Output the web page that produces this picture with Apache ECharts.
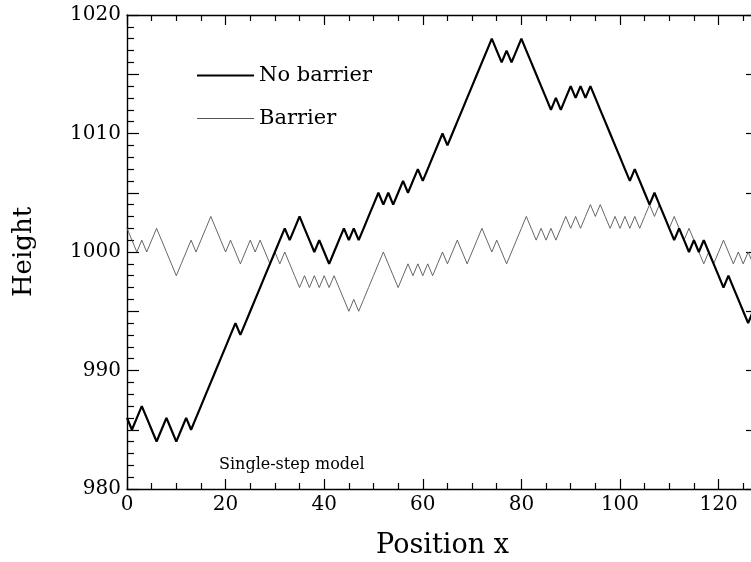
<!DOCTYPE html>
<html>
<head>
<meta charset="utf-8">
<script src="https://cdn.jsdelivr.net/npm/echarts@6/dist/echarts.min.js"></script>
<style>
html,body{margin:0;padding:0;background:#fff;}
#chart{width:751px;height:562px;}
</style>
</head>
<body>
<div id="chart"></div>
<script>
// Position x runs 0..128, one value per lattice site
const positions = Array.from({length: 129}, (_, i) => i);
const heightNoBarrier = [
  986,985,986,987,986,985,984,985,986,985,984,985,986,985,986,987,988,989,990,991,
  992,993,994,993,994,995,996,997,998,999,1000,1001,1002,1001,1002,1003,1002,1001,1000,1001,
  1000,999,1000,1001,1002,1001,1002,1001,1002,1003,1004,1005,1004,1005,1004,1005,1006,1005,1006,1007,
  1006,1007,1008,1009,1010,1009,1010,1011,1012,1013,1014,1015,1016,1017,1018,1017,1016,1017,1016,1017,
  1018,1017,1016,1015,1014,1013,1012,1013,1012,1013,1014,1013,1014,1013,1014,1013,1012,1011,1010,1009,
  1008,1007,1006,1007,1006,1005,1004,1005,1004,1003,1002,1001,1002,1001,1000,1001,1000,1001,1000,999,
  998,997,998,997,996,995,994,995,994
];
const heightBarrier = [
  1002,1001,1000,1001,1000,1001,1002,1001,1000,999,998,999,1000,1001,1000,1001,1002,1003,1002,1001,
  1000,1001,1000,999,1000,1001,1000,1001,1000,999,1000,999,1000,999,998,997,998,997,998,997,
  998,997,998,997,996,995,996,995,996,997,998,999,1000,999,998,997,998,999,998,999,
  998,999,998,999,1000,999,1000,1001,1000,999,1000,1001,1002,1001,1000,1001,1000,999,1000,1001,
  1002,1003,1002,1001,1002,1001,1002,1001,1002,1003,1002,1003,1002,1003,1004,1003,1004,1003,1002,1003,
  1002,1003,1002,1003,1002,1003,1004,1003,1004,1003,1002,1003,1002,1001,1002,1001,1000,999,1000,999,
  1000,1001,1000,999,1000,999,1000,999,1000
];
const seriesNames = ['No barrier', 'Barrier'];
const xTickValues = [0, 20, 40, 60, 80, 100, 120];
const yTickValues = [980, 990, 1000, 1010, 1020];

const FONT = 'DejaVu Serif';
const chart = echarts.init(document.getElementById('chart'), null, {renderer: 'canvas'});

const axisLineStyle = {color: '#000', width: 1.4};
function xAxisCfg(pos, showLabels) {
  return {
    type: 'value', position: pos, min: 0, max: 128, interval: 20,
    axisLine: {show: true, onZero: false, lineStyle: axisLineStyle},
    axisTick: {show: true, inside: true, length: 10, lineStyle: {color: '#000', width: 1.2}},
    minorTick: {show: true, splitNumber: 4, length: 6, lineStyle: {color: '#000', width: 1.2}},
    splitLine: {show: false}, minorSplitLine: {show: false},
    axisLabel: {
      show: showLabels, color: '#000', fontFamily: FONT, fontSize: 20, margin: 6,
      showMaxLabel: false, showMinLabel: true, hideOverlap: false,
      formatter: v => xTickValues.includes(v) ? String(v) : ''
    },
    name: showLabels ? 'Position x' : '',
    nameLocation: 'middle', nameGap: 43,
    nameTextStyle: {color: '#000', fontFamily: FONT, fontSize: 27}
  };
}
function yAxisCfg(pos, showLabels) {
  return {
    type: 'value', position: pos, min: 980, max: 1020, interval: 5,
    axisLine: {show: true, onZero: false, lineStyle: axisLineStyle},
    axisTick: {show: true, inside: true, length: 12, lineStyle: {color: '#000', width: 1.2}},
    minorTick: {show: true, splitNumber: 5, length: 7, lineStyle: {color: '#000', width: 1.2}},
    splitLine: {show: false}, minorSplitLine: {show: false},
    axisLabel: {
      show: showLabels, color: '#000', fontFamily: FONT, fontSize: 20, margin: 6,
      showMinLabel: true, showMaxLabel: true, hideOverlap: false,
      formatter: v => yTickValues.includes(v) ? String(v) : ''
    },
    name: showLabels ? 'Height' : '',
    nameLocation: 'middle', nameGap: 90, nameRotate: 90,
    nameTextStyle: {color: '#000', fontFamily: FONT, fontSize: 26}
  };
}

const option = {
  backgroundColor: '#fff',
  animation: false,
  grid: {left: 127, right: -7, top: 15, bottom: 73, containLabel: false, outerBoundsMode: 'none'},
  legend: {
    orient: 'vertical', left: 192, top: 60,
    itemWidth: 57, itemHeight: 14, itemGap: 22,
    textStyle: {color: '#000', fontFamily: FONT, fontSize: 21},
    data: [
      {name: seriesNames[0], icon: 'path://M0,0L57,0L57,2.2L0,2.2Z'},
      {name: seriesNames[1], icon: 'path://M0,0L57,0L57,1L0,1Z'}
    ],
    selectedMode: false
  },
  xAxis: [xAxisCfg('bottom', true), xAxisCfg('top', false)],
  yAxis: [yAxisCfg('left', true), yAxisCfg('right', false)],
  graphic: [{
    type: 'text', left: 219, top: 457, silent: true,
    style: {text: 'Single-step model', fill: '#000', font: '16px "DejaVu Serif"'}
  }],
  series: [
    {
      name: seriesNames[0], type: 'line', xAxisIndex: 0, yAxisIndex: 0,
      data: positions.map((x, i) => [x, heightNoBarrier[i]]),
      symbol: 'none', showSymbol: false,
      lineStyle: {color: '#000', width: 2.2}, itemStyle: {color: '#000'},
      z: 3
    },
    {
      name: seriesNames[1], type: 'line', xAxisIndex: 0, yAxisIndex: 0,
      data: positions.map((x, i) => [x, heightBarrier[i]]),
      symbol: 'none', showSymbol: false,
      lineStyle: {color: '#555', width: 0.9}, itemStyle: {color: '#555'},
      z: 2
    }
  ]
};
chart.setOption(option);
</script>
</body>
</html>
